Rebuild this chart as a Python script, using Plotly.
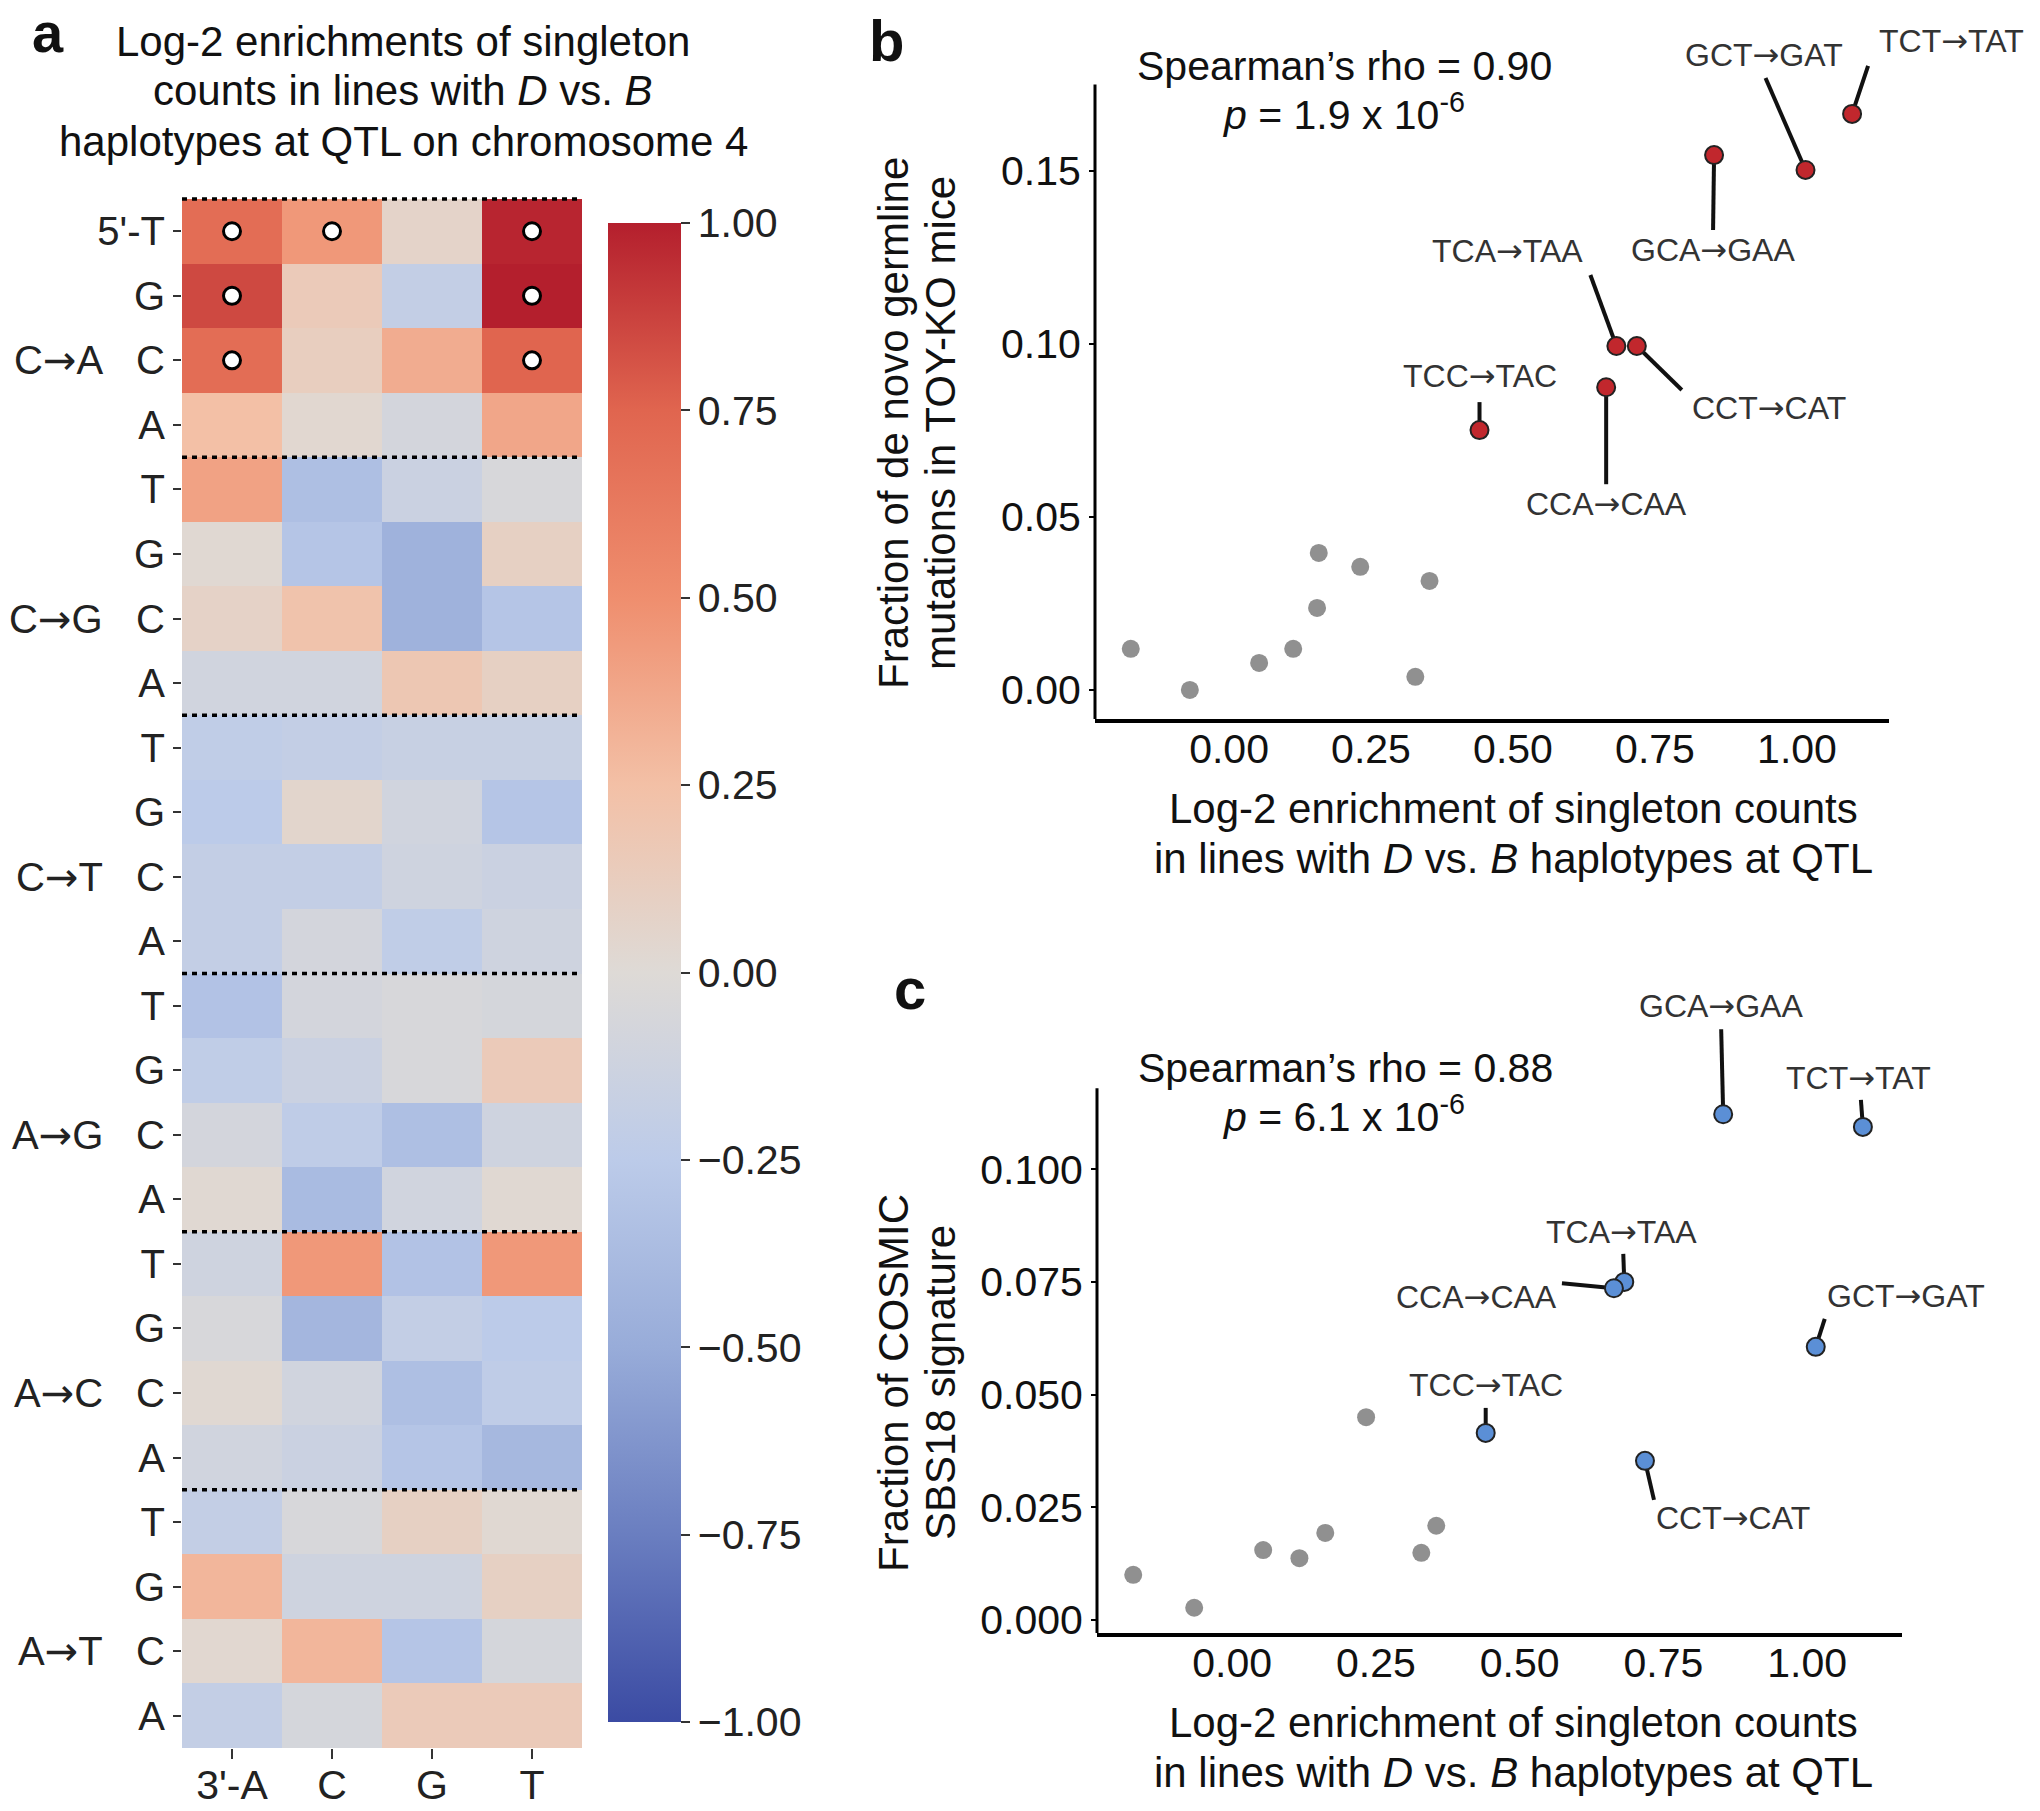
import plotly.graph_objects as go

W, H = 2040, 1811
FONT = "Liberation Sans, Arial, Helvetica, sans-serif"
ARROW = '<span style="font-family:DejaVu Sans">→</span>'

# ---- panel a: log-2 enrichment per 5' base (rows) and 3' base (columns)
mutation_types = ["C→A", "C→G", "C→T", "A→G", "A→C", "A→T"]
five_prime = ["T", "G", "C", "A"]
three_prime = ["3'-A", "C", "G", "T"]

c_to_a = [[0.70, 0.45, 0.07, 0.98], [0.85, 0.15, -0.20, 1.00], [0.70, 0.12, 0.35, 0.75], [0.25, 0.03, -0.08, 0.38]]
c_to_g = [[0.40, -0.35, -0.15, -0.05], [0.02, -0.30, -0.45, 0.10], [0.08, 0.22, -0.45, -0.30], [-0.10, -0.10, 0.18, 0.10]]
c_to_t = [[-0.22, -0.20, -0.17, -0.17], [-0.25, 0.05, -0.10, -0.30], [-0.20, -0.20, -0.12, -0.15], [-0.20, -0.08, -0.22, -0.12]]
a_to_g = [[-0.32, -0.08, -0.05, -0.07], [-0.22, -0.15, -0.05, 0.15], [-0.08, -0.23, -0.35, -0.12], [0.02, -0.38, -0.10, 0.02]]
a_to_c = [[-0.12, 0.45, -0.32, 0.45], [-0.05, -0.42, -0.20, -0.25], [0.02, -0.10, -0.35, -0.23], [-0.10, -0.15, -0.30, -0.40]]
a_to_t = [[-0.20, -0.05, 0.10, 0.02], [0.30, -0.12, -0.12, 0.10], [0.03, 0.30, -0.30, -0.07], [-0.20, -0.07, 0.15, 0.15]]

# significant cells (row index, column index)
sig_rows = [0, 0, 0, 1, 1, 2, 2]
sig_cols = [0, 1, 3, 0, 3, 0, 3]

# ---- panels b and c
labels = ["TCT→TAT", "GCT→GAT", "GCA→GAA", "TCA→TAA", "CCT→CAT", "CCA→CAA", "TCC→TAC"]
label_enrich = [1.097, 1.015, 0.854, 0.682, 0.718, 0.664, 0.441]
label_frac_b = [0.1665, 0.1503, 0.1546, 0.0994, 0.0994, 0.0875, 0.0751]
label_frac_c = [0.1094, 0.0606, 0.1122, 0.0750, 0.0353, 0.0736, 0.0415]

other_enrich_b = [-0.173, -0.069, 0.053, 0.113, 0.155, 0.158, 0.231, 0.353, 0.328]
other_frac_b = [0.0119, 0.0, 0.0078, 0.0119, 0.0237, 0.0396, 0.0356, 0.0315, 0.0038]
other_enrich_c = [-0.172, -0.066, 0.054, 0.117, 0.162, 0.233, 0.329, 0.355]
other_frac_c = [0.0100, 0.0027, 0.0155, 0.0137, 0.0193, 0.0450, 0.0149, 0.0209]

# label placement (pixel offsets from the point): text dx, dy, segment end dx, dy
offsets_b = {
    "TCT→TAT": (99, -73, 16, -48), "GCT→GAT": (-42, -115, -40, -92),
    "GCA→GAA": (-1, 95, -1, 75), "TCA→TAA": (-109, -95, -26, -71),
    "CCT→CAT": (132, 62, 45, 44), "CCA→CAA": (0, 117, 0, 97),
    "TCC→TAC": (0, -54, 0, -28),
}
offsets_c = {
    "TCT→TAT": (-4, -49, -2, -27), "GCT→GAT": (90, -51, 9, -28),
    "GCA→GAA": (-2, -108, -2, -85), "TCA→TAA": (-3, -50, -1, -28),
    "CCT→CAT": (88, 57, 9, 39), "CCA→CAA": (-137, 9, -52, -5),
    "TCC→TAC": (0, -48, 0, -25),
}

coolwarm = [
    [0.0, "#3b4ba3"], [0.125, "#6a7ec0"], [0.25, "#98acd9"], [0.375, "#bccbe9"],
    [0.5, "#dedad6"], [0.625, "#f3c0a6"], [0.75, "#ef8e6e"], [0.875, "#e0654f"],
    [1.0, "#b41f2d"],
]


def px(x):
    return x / W


def py(y):
    return 1 - y / H


def arrow(s):
    return s.replace("→", ARROW)


groups = [c_to_a, c_to_g, c_to_t, a_to_g, a_to_c, a_to_t]
z = [row for g in groups for row in g]
row_text = []
for gi in range(len(groups)):
    for ri, base in enumerate(five_prime):
        row_text.append("5'-T" if gi == 0 and ri == 0 else base)

fig = go.Figure()

cb_ticks = [1.0, 0.75, 0.5, 0.25, 0.0, -0.25, -0.5, -0.75, -1.0]
fig.add_trace(go.Heatmap(
    z=z, x=list(range(4)), y=list(range(len(z))),
    zmin=-1, zmax=1, colorscale=coolwarm,
    colorbar=dict(
        x=px(608), xanchor="left", xpad=0, ypad=0,
        y=py(972.5), yanchor="middle",
        thickness=73, len=1499, lenmode="pixels", outlinewidth=0,
        ticks="outside", ticklen=9, tickwidth=2, tickcolor="#333",
        tickvals=cb_ticks,
        ticktext=[f"{v:.2f}".replace("-", "−") for v in cb_ticks],
        tickfont=dict(size=41, color="#222", family=FONT),
    ),
    xaxis="x", yaxis="y",
))
fig.add_trace(go.Scatter(
    x=sig_cols, y=sig_rows, mode="markers", xaxis="x", yaxis="y",
    marker=dict(size=17, color="white", line=dict(color="black", width=3)),
    showlegend=False,
))

# panel b
fig.add_trace(go.Scatter(
    x=other_enrich_b, y=other_frac_b, mode="markers", xaxis="x2", yaxis="y2",
    marker=dict(size=18, color="#909090"), showlegend=False,
))
fig.add_trace(go.Scatter(
    x=label_enrich, y=label_frac_b, mode="markers", xaxis="x2", yaxis="y2",
    marker=dict(size=18, color="#c1272d", line=dict(color="#222", width=2)),
    showlegend=False,
))
# panel c
fig.add_trace(go.Scatter(
    x=other_enrich_c, y=other_frac_c, mode="markers", xaxis="x3", yaxis="y3",
    marker=dict(size=18, color="#909090"), showlegend=False,
))
fig.add_trace(go.Scatter(
    x=label_enrich, y=label_frac_c, mode="markers", xaxis="x3", yaxis="y3",
    marker=dict(size=18, color="#5b8fd6", line=dict(color="#222", width=2)),
    showlegend=False,
))

annotations = []
shapes = []
sep_line = dict(color="black", width=3.5, dash="5px,5px")

# group separators in heatmap (the top one sits on the domain edge)
shapes.append(dict(type="line", xref="x", yref="y domain", x0=-0.5, x1=3.5, y0=1, y1=1,
                   line=sep_line, layer="above"))
for gi in range(len(groups)):
    if gi > 0:
        shapes.append(dict(
            type="line", xref="x", yref="y", x0=-0.5, x1=3.5,
            y0=gi * 4 - 0.5, y1=gi * 4 - 0.5, line=sep_line, layer="above",
        ))
    annotations.append(dict(
        x=px(105), y=gi * 4 + 2, xref="paper", yref="y", xanchor="right",
        text=arrow(mutation_types[gi]), showarrow=False,
        font=dict(size=40, color="#222", family=FONT),
    ))


def add_labels(xs, ys, offsets, xref, yref):
    for lab, xv, yv in zip(labels, xs, ys):
        tdx, tdy, ldx, ldy = offsets[lab]
        # leader segment anchored on the point, drawn under the markers
        shapes.append(dict(
            type="line", xref=xref, yref=yref, xsizemode="pixel", ysizemode="pixel",
            xanchor=xv, yanchor=yv, x0=0, x1=ldx, y0=0, y1=-ldy,
            line=dict(color="#111", width=4), layer="below",
        ))
        annotations.append(dict(
            x=xv, y=yv, xref=xref, yref=yref, text=arrow(lab), showarrow=False,
            xshift=tdx, yshift=-tdy, xanchor="center", yanchor="middle",
            font=dict(size=32, color="#333", family=FONT),
        ))


add_labels(label_enrich, label_frac_b, offsets_b, "x2", "y2")
add_labels(label_enrich, label_frac_c, offsets_c, "x3", "y3")

# y axis lines for b and c stop below the label room
shapes.append(dict(type="line", xref="x2 domain", yref="y2", x0=0, x1=0, y0=-0.0084, y1=0.175,
                   line=dict(color="black", width=3)))
shapes.append(dict(type="line", xref="x3 domain", yref="y3", x0=0, x1=0, y0=-0.0029, y1=0.118,
                   line=dict(color="black", width=3)))

xtitle1 = "Log-2 enrichment of singleton counts"
xtitle2 = "in lines with <i>D</i> vs. <i>B</i> haplotypes at QTL"
texts = [
    (48, 33, "<b>a</b>", 56), (886, 40, "<b>b</b>", 58), (910, 988, "<b>c</b>", 58),
    (403, 41, "Log-2 enrichments of singleton", 42),
    (403, 91, "counts in lines with <i>D</i> vs. <i>B</i>", 42),
    (403, 141, "haplotypes at QTL on chromosome 4", 42),
    (1513, 808, xtitle1, 42), (1513, 858, xtitle2, 42),
    (1513, 1722, xtitle1, 42), (1513, 1772, xtitle2, 42),
    (1344, 66, "Spearman’s rho = 0.90", 41), (1343, 112, "<i>p</i> = 1.9 x 10<sup>-6</sup>", 41),
    (1345, 1068, "Spearman’s rho = 0.88", 41), (1343, 1114, "<i>p</i> = 6.1 x 10<sup>-6</sup>", 41),
]
for x, y, t, s in texts:
    annotations.append(dict(x=px(x), y=py(y), xref="paper", yref="paper", text=t,
                            showarrow=False, xanchor="center", yanchor="middle",
                            font=dict(size=s, color="#111", family=FONT)))
for x, y, t in [(893, 423, "Fraction of de novo germline"), (940, 423, "mutations in TOY-KO mice"),
                (893, 1383, "Fraction of COSMIC"), (940, 1383, "SBS18 signature")]:
    annotations.append(dict(x=px(x), y=py(y), xref="paper", yref="paper", text=t,
                            textangle=-90, showarrow=False, xanchor="center", yanchor="middle",
                            font=dict(size=42, color="#111", family=FONT)))

tick_font = dict(size=41, color="#111", family=FONT)
fig.update_layout(
    width=W, height=H, margin=dict(l=0, r=0, t=0, b=0, autoexpand=False),
    paper_bgcolor="white", plot_bgcolor="white", showlegend=False,
    font=dict(family=FONT),
    xaxis=dict(domain=[px(182), px(582)], range=[-0.5, 3.5], anchor="y", automargin=False,
               tickvals=list(range(4)), ticktext=three_prime, ticks="outside",
               ticklen=10, tickwidth=2, tickcolor="#333", showgrid=False, zeroline=False,
               ticklabelstandoff=-9, tickfont=dict(size=41, color="#222", family=FONT)),
    yaxis=dict(domain=[py(1748), py(199)], range=[len(z) - 0.5, -0.5], anchor="x",
               automargin=False,
               tickvals=list(range(len(z))), ticktext=row_text, ticks="outside",
               ticklen=8, tickwidth=2, tickcolor="#333", showgrid=False, zeroline=False,
               tickfont=dict(size=40, color="#222", family=FONT)),
    xaxis2=dict(domain=[px(1095), px(1889)], range=[-0.236, 1.162], anchor="y2",
                automargin=False, showline=True, linewidth=4, linecolor="black", ticks="",
                tickvals=[0, 0.25, 0.5, 0.75, 1.0], tickformat=".2f", ticklabelstandoff=-9,
                showgrid=False, zeroline=False, tickfont=tick_font),
    yaxis2=dict(domain=[py(719), py(32.6)], range=[-0.0084, 0.19], anchor="x2",
                automargin=False, showline=False, ticks="outside", ticklen=5, tickwidth=2,
                tickcolor="black", tickvals=[0, 0.05, 0.1, 0.15], tickformat=".2f",
                showgrid=False, zeroline=False, tickfont=tick_font),
    xaxis3=dict(domain=[px(1097), px(1902)], range=[-0.235, 1.165], anchor="y3",
                automargin=False, showline=True, linewidth=4, linecolor="black", ticks="",
                tickvals=[0, 0.25, 0.5, 0.75, 1.0], tickformat=".2f", ticklabelstandoff=-9,
                showgrid=False, zeroline=False, tickfont=tick_font),
    yaxis3=dict(domain=[py(1633), py(989)], range=[-0.0029, 0.14], anchor="x3",
                automargin=False, showline=False, ticks="outside", ticklen=5, tickwidth=2,
                tickcolor="black", tickvals=[0, 0.025, 0.05, 0.075, 0.1], tickformat=".3f",
                showgrid=False, zeroline=False, tickfont=tick_font),
    annotations=annotations, shapes=shapes,
)

fig.write_html("out.html", config={"displayModeBar": False},
               post_script="document.body.style.margin = '0px';")
